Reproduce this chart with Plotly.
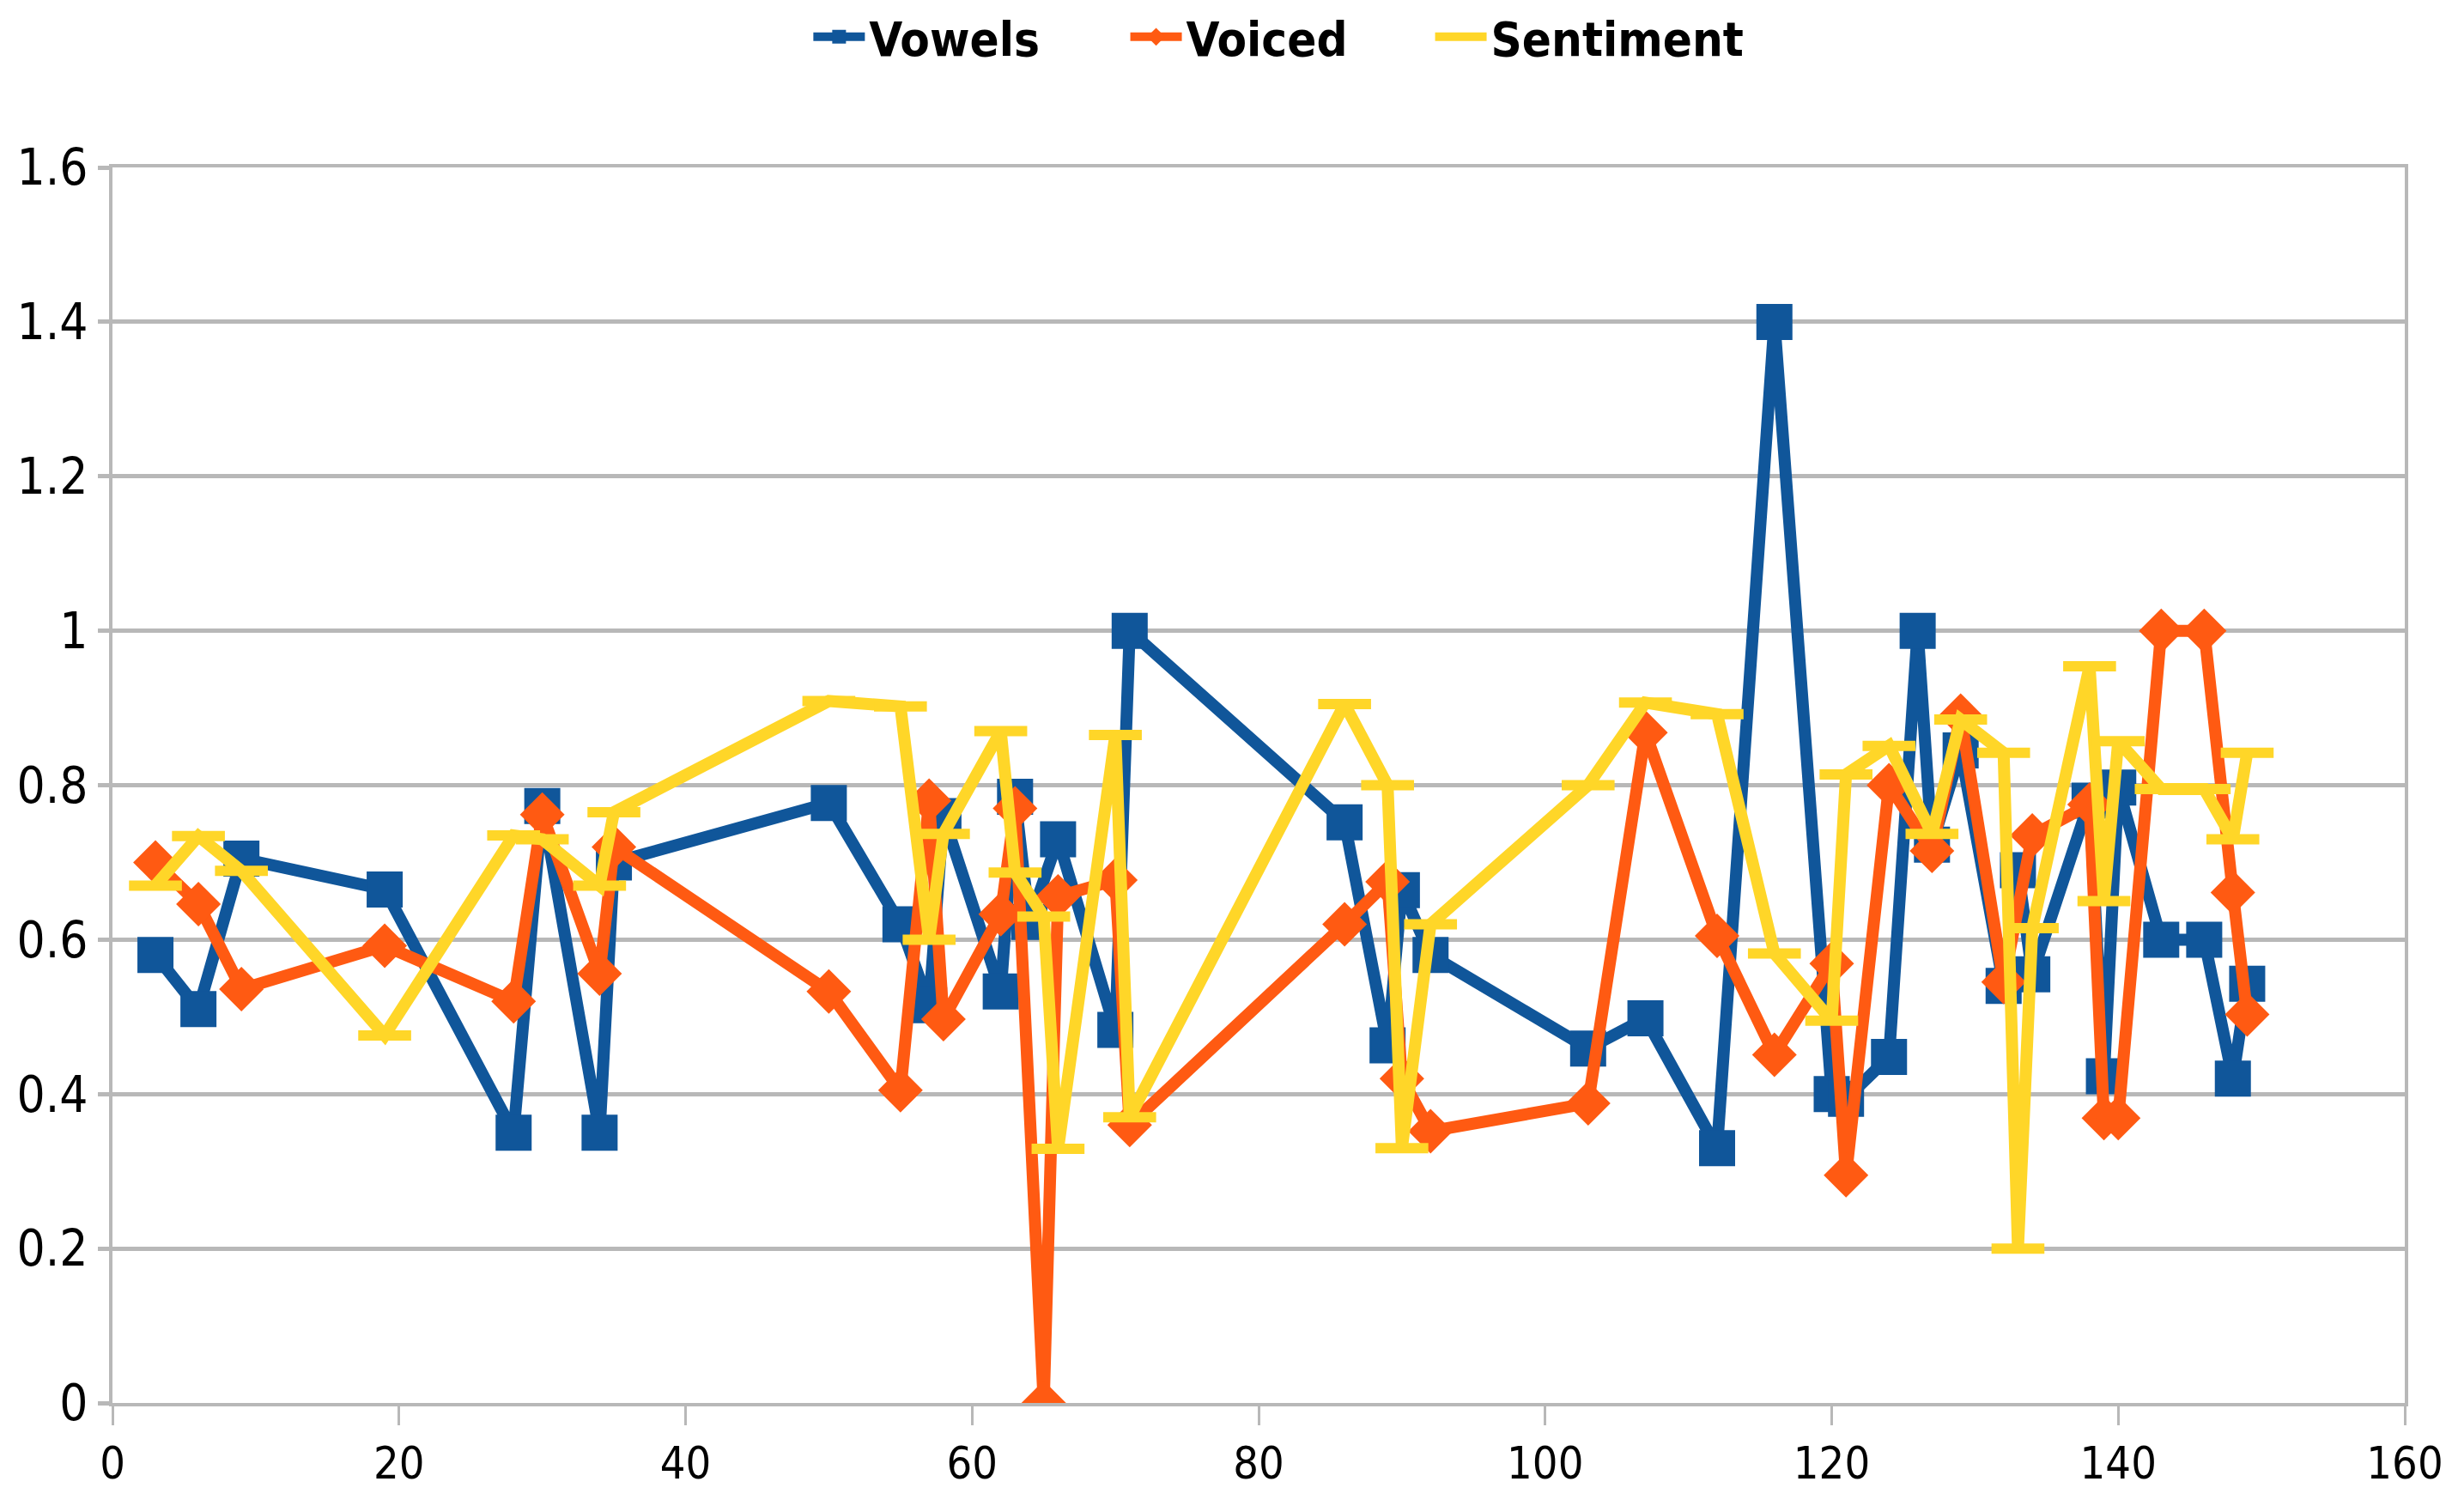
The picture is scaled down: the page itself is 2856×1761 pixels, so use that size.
import plotly.graph_objects as go

# ---------------- data ----------------
vowels_x = [3, 6, 9, 19, 28, 30, 34, 35, 50, 55, 57, 58, 62, 63, 64, 66, 70, 71, 86, 89, 90, 92,
            103, 107, 112, 116, 120, 121, 124, 126, 127, 129, 132, 133, 134, 138, 139, 140, 143,
            146, 148, 149]
vowels_y = [0.58, 0.51, 0.705, 0.665, 0.35, 0.773, 0.35, 0.70, 0.777, 0.62, 0.515, 0.76, 0.533,
            0.785, 0.623, 0.73, 0.483, 1.0, 0.752, 0.463, 0.664, 0.58, 0.459, 0.498, 0.33, 1.4,
            0.40, 0.394, 0.448, 1.0, 0.723, 0.845, 0.54, 0.69, 0.555, 0.78, 0.423, 0.797, 0.60,
            0.60, 0.42, 0.543]

voiced_x = [3, 6, 9, 19, 28, 30, 34, 35, 50, 55, 57, 58, 62, 63, 65, 66, 70, 71, 86, 89, 90, 92,
            103, 107, 112, 116, 120, 121, 124, 127, 129, 132, 134, 138, 139, 140, 143, 146, 148,
            149]
voiced_y = [0.70, 0.646, 0.536, 0.592, 0.52, 0.762, 0.556, 0.72, 0.533, 0.405, 0.78, 0.497,
            0.633, 0.77, 0.0, 0.656, 0.677, 0.36, 0.62, 0.675, 0.42, 0.352, 0.388, 0.868, 0.605,
            0.451, 0.569, 0.295, 0.80, 0.715, 0.89, 0.545, 0.735, 0.775, 0.369, 0.369, 1.0, 1.0,
            0.661, 0.503]

sentiment_x = [3, 6, 9, 19, 28, 30, 34, 35, 50, 55, 57, 58, 62, 63, 65, 66, 70, 71, 86, 89, 90,
               92, 103, 107, 112, 116, 120, 121, 124, 127, 129, 132, 133, 134, 138, 139, 140,
               143, 146, 148, 149]
sentiment_y = [0.67, 0.734, 0.689, 0.476, 0.735, 0.73, 0.67, 0.765, 0.909, 0.902, 0.60, 0.737,
               0.87, 0.687, 0.63, 0.329, 0.865, 0.37, 0.905, 0.80, 0.33, 0.62, 0.80, 0.907,
               0.892, 0.582, 0.495, 0.814, 0.851, 0.737, 0.885, 0.842, 0.2, 0.615, 0.954, 0.65,
               0.857, 0.795, 0.795, 0.73, 0.842]

x_ticks = [0, 20, 40, 60, 80, 100, 120, 140, 160]
y_ticks = [0, 0.2, 0.4, 0.6, 0.8, 1, 1.2, 1.4, 1.6]

# ---------------- style ----------------
BLUE = "#10569A"
ORANGE = "#FF5A12"
YELLOW = "#FFD628"
GRID = "#B8B8B8"
FONT = "DejaVu Sans Condensed, Liberation Sans Narrow, Arial Narrow, Liberation Sans, sans-serif"

W, H = 2840, 1745  # page body adds an 8px margin

fig = go.Figure()
fig.add_trace(go.Scatter(
    x=vowels_x, y=vowels_y, name="Vowels", mode="lines+markers", legend="legend",
    line=dict(color=BLUE, width=14),
    marker=dict(symbol="square", size=42, color=BLUE),
))
fig.add_trace(go.Scatter(
    x=voiced_x, y=voiced_y, name="Voiced", mode="lines+markers", legend="legend2",
    line=dict(color=ORANGE, width=14),
    marker=dict(symbol="diamond", size=40, color=ORANGE),
))
fig.add_trace(go.Scatter(
    x=sentiment_x, y=sentiment_y, name="Sentiment", mode="lines+markers", legend="legend3",
    line=dict(color=YELLOW, width=14),
    marker=dict(symbol="line-ew", size=44, color=YELLOW,
                line=dict(color=YELLOW, width=12)),
))

legend_font = dict(family=FONT, size=56, color="black", weight="bold")
legend_common = dict(orientation="h", xref="container", yref="container",
                     y=0.98, yanchor="middle", xanchor="left",
                     font=legend_font, itemwidth=60, bgcolor="rgba(0,0,0,0)")

fig.update_layout(
    width=W, height=H,
    margin=dict(l=123, r=47, t=187, b=119, autoexpand=False),
    paper_bgcolor="white", plot_bgcolor="white",
    font=dict(family=FONT, size=58, color="black"),
    showlegend=True,
    legend=dict(x=0.329, **legend_common),
    legend2=dict(x=0.459, **legend_common),
    legend3=dict(x=0.584, **legend_common),
    xaxis=dict(
        range=[0, 160], tickvals=x_ticks, showgrid=False, zeroline=False,
        showline=True, linecolor=GRID, linewidth=4, mirror=True,
        ticks="outside", ticklen=22, tickwidth=3, tickcolor=GRID,
        ticklabeloverflow="allow",
        tickfont=dict(family=FONT, size=52, color="black"),
    ),
    yaxis=dict(
        range=[0, 1.6], tickvals=y_ticks, showgrid=True, gridcolor=GRID, gridwidth=5,
        zeroline=False, showline=True, linecolor=GRID, linewidth=4, mirror=True,
        ticks="outside", ticklen=13, tickwidth=5, tickcolor=GRID,
        ticklabeloverflow="allow",
        tickfont=dict(family=FONT, size=58, color="black"),
    ),
)

fig.write_html("out.html")
